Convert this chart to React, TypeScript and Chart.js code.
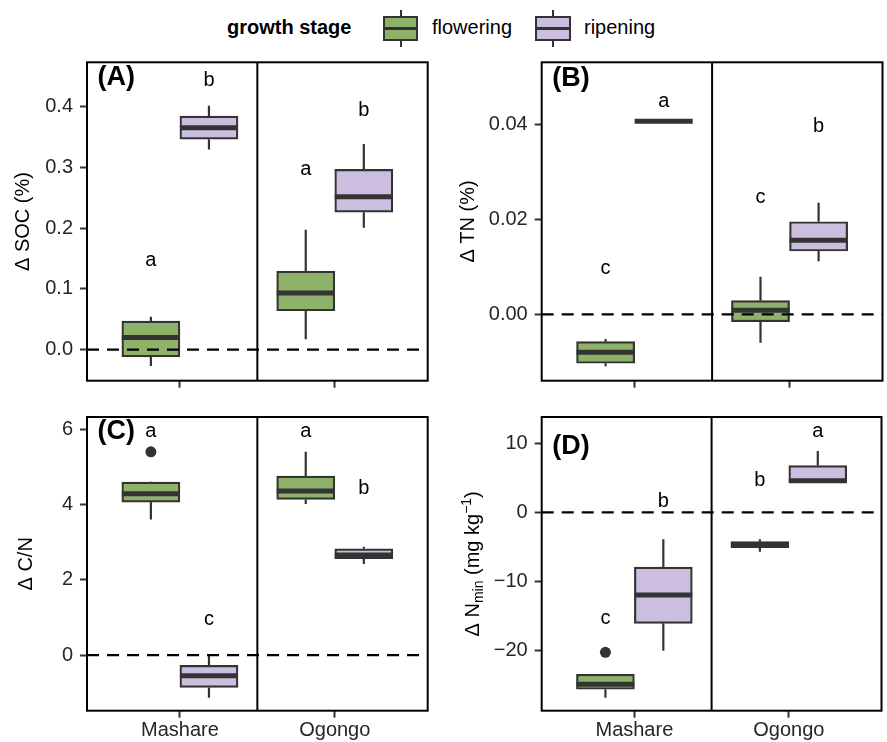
import React, { useEffect, useRef } from 'react';
import { Chart, registerables } from 'chart.js';

Chart.register(...registerables);

const FONT = "'Liberation Sans', Arial, Helvetica, sans-serif";
const INK = '#333333';
const TICK_TEXT = '#262626';

// ---------- categories ----------
const sites = ['Mashare', 'Ogongo'];
const siteValues = [1, 2];
const stages = ['flowering', 'ripening'];
const stageFill = ['#8fb26b', '#ccbedf'];
const legendTitle = 'growth stage';

// ---------- box statistics per site: [lower whisker, Q1, median, Q3, upper whisker] ----------
// (A) Δ SOC (%)
const socFlowering = [[-0.027, -0.012, 0.020, 0.047, 0.054], [0.017, 0.064, 0.093, 0.129, 0.197]];
const socRipening = [[0.329, 0.346, 0.365, 0.384, 0.401], [0.2005, 0.226, 0.2515, 0.2965, 0.338]];
const socLettersFlowering = ['a', 'a'];
const socLettersRipening = ['b', 'b'];
const socLetterYFlowering = [0.147, 0.2965];
const socLetterYRipening = [0.446, 0.397];
const socTicks = [0, 0.1, 0.2, 0.3, 0.4];
const socRange = [-0.051, 0.4725];
const socTagY = 0.446;

// (B) Δ TN (%)
const tnFlowering = [[-0.0109, -0.0103, -0.0080, -0.00575, -0.0052], [-0.006, -0.00155, 0.00084, 0.00286, 0.0079]];
const tnRipening = [[0.04056, 0.04056, 0.04056, 0.04056, 0.04056], [0.01114, 0.0133, 0.01555, 0.01946, 0.02346]];
const tnLettersFlowering = ['c', 'c'];
const tnLettersRipening = ['a', 'b'];
const tnLetterYFlowering = [0.00967, 0.0246];
const tnLetterYRipening = [0.0447, 0.0398];
const tnTicks = [0, 0.02, 0.04];
const tnRange = [-0.01396, 0.05297];
const tnTagY = 0.0494;

// (C) Δ C/N
const cnFlowering = [[3.606, 4.067, 4.288, 4.60, 4.61], [4.014, 4.137, 4.359, 4.758, 5.404]];
const cnRipening = [[-1.134, -0.86, -0.549, -0.275, 0.0], [2.419, 2.56, 2.658, 2.826, 2.879]];
const cnOutliersFlowering = [[5.404], []];
const cnOutliersRipening: number[][] = [[], []];
const cnLettersFlowering = ['a', 'a'];
const cnLettersRipening = ['c', 'b'];
const cnLetterYFlowering = [5.936, 5.936];
const cnLetterYRipening = [0.948, 4.474];
const cnTicks = [0, 2, 4, 6];
const cnRange = [-1.48, 6.33];
const cnTagY = 5.93;

// (D) Δ Nmin (mg kg-1)
const nminFlowering = [[-26.83, -25.61, -24.88, -23.44, -23.44], [-5.7, -5.12, -4.68, -4.25, -3.91]];
const nminRipening = [[-20.03, -16.07, -11.97, -7.92, -3.91], [4.34, 4.34, 4.58, 6.75, 8.87]];
const nminOutliersFlowering = [[-20.26], []];
const nminOutliersRipening: number[][] = [[], []];
const nminLettersFlowering = ['c', 'b'];
const nminLettersRipening = ['b', 'a'];
const nminLetterYFlowering = [-15.34, 4.82];
const nminLetterYRipening = [1.78, 11.66];
const nminTicks = [-20, -10, 0, 10];
const nminRange = [-28.71, 13.79];
const nminTagY = 9.38;

const noOutliers: number[][] = [[], []];

type TitlePart = { text: string; kind?: 'sub' | 'sup' };
interface Frame {
  left: number; top: number; width: number; height: number;
  padTop: number; padRight: number; yWidth: number; xHeight: number; titleX: number;
}
interface Panel {
  key: string; tag: string; tagY: number; title: TitlePart[];
  range: number[]; ticks: number[]; digits: number;
  stats: number[][][]; letters: string[][]; letterY: number[][]; outliers: number[][][];
  showX: boolean; frame: Frame;
}

const panels: Panel[] = [
  {
    key: 'A', tag: '(A)', tagY: socTagY, title: [{ text: 'Δ SOC (%)' }],
    range: socRange, ticks: socTicks, digits: 1,
    stats: [socFlowering, socRipening], letters: [socLettersFlowering, socLettersRipening],
    letterY: [socLetterYFlowering, socLetterYRipening], outliers: [noOutliers, noOutliers],
    showX: false,
    frame: { left: 0, top: 48, width: 440, height: 347, padTop: 14.3, padRight: 12.3, yWidth: 87, xHeight: 14.3, titleX: 28.8 },
  },
  {
    key: 'B', tag: '(B)', tagY: tnTagY, title: [{ text: 'Δ TN (%)' }],
    range: tnRange, ticks: tnTicks, digits: 2,
    stats: [tnFlowering, tnRipening], letters: [tnLettersFlowering, tnLettersRipening],
    letterY: [tnLetterYFlowering, tnLetterYRipening], outliers: [noOutliers, noOutliers],
    showX: false,
    frame: { left: 440, top: 48, width: 447, height: 347, padTop: 14.3, padRight: 4.5, yWidth: 101.7, xHeight: 14.3, titleX: 33.6 },
  },
  {
    key: 'C', tag: '(C)', tagY: cnTagY, title: [{ text: 'Δ C/N' }],
    range: cnRange, ticks: cnTicks, digits: 0,
    stats: [cnFlowering, cnRipening], letters: [cnLettersFlowering, cnLettersRipening],
    letterY: [cnLetterYFlowering, cnLetterYRipening], outliers: [cnOutliersFlowering, cnOutliersRipening],
    showX: true,
    frame: { left: 0, top: 395, width: 440, height: 347, padTop: 22, padRight: 12.3, yWidth: 87, xHeight: 31.3, titleX: 31.8 },
  },
  {
    key: 'D', tag: '(D)', tagY: nminTagY,
    title: [{ text: 'Δ N' }, { text: 'min', kind: 'sub' }, { text: ' (mg kg' }, { text: '−1', kind: 'sup' }, { text: ')' }],
    range: nminRange, ticks: nminTicks, digits: 0,
    stats: [nminFlowering, nminRipening], letters: [nminLettersFlowering, nminLettersRipening],
    letterY: [nminLetterYFlowering, nminLetterYRipening], outliers: [nminOutliersFlowering, nminOutliersRipening],
    showX: true,
    frame: { left: 440, top: 395, width: 447, height: 347, padTop: 22, padRight: 4.5, yWidth: 101.7, xHeight: 31.3, titleX: 39.3 },
  },
];

const DODGE = 0.1875;
const stageOffset = [-DODGE, DODGE];

function fmt(v: number, digits: number) {
  const s = Math.abs(v).toFixed(digits);
  return (v < -1e-12 ? '\u2212' : '') + s;
}

function fillInkCentered(ctx: CanvasRenderingContext2D, text: string, x: number, y: number) {
  const m = ctx.measureText(text);
  ctx.textBaseline = 'alphabetic';
  ctx.fillText(text, x, y + (m.actualBoundingBoxAscent - m.actualBoundingBoxDescent) / 2);
}

function makePlugin(p: Panel) {
  return {
    id: 'boxDecor' + p.key,
    beforeDatasetsDraw(chart: any) {
      const { ctx, scales } = chart;
      const y = scales.y;
      ctx.save();
      ctx.strokeStyle = INK;
      ctx.lineWidth = 2.2;
      p.stats.forEach((stageStats, si) => {
        const meta = chart.getDatasetMeta(si);
        stageStats.forEach((b, i) => {
          const el = meta.data[i];
          if (!el) return;
          const cx = el.x;
          ctx.beginPath();
          ctx.moveTo(cx, y.getPixelForValue(b[3]));
          ctx.lineTo(cx, y.getPixelForValue(b[4]));
          ctx.moveTo(cx, y.getPixelForValue(b[1]));
          ctx.lineTo(cx, y.getPixelForValue(b[0]));
          ctx.stroke();
        });
      });
      ctx.restore();
    },
    afterDatasetsDraw(chart: any) {
      const { ctx, chartArea, scales } = chart;
      const x = scales.x;
      const y = scales.y;
      ctx.save();
      // medians
      ctx.strokeStyle = INK;
      ctx.lineWidth = 5;
      ctx.lineCap = 'butt';
      p.stats.forEach((stageStats, si) => {
        const meta = chart.getDatasetMeta(si);
        stageStats.forEach((b, i) => {
          const el = meta.data[i];
          if (!el) return;
          const w = el.width;
          const my = y.getPixelForValue(b[2]);
          ctx.beginPath();
          ctx.moveTo(el.x - w / 2, my);
          ctx.lineTo(el.x + w / 2, my);
          ctx.stroke();
        });
      });
      // dashed zero line
      const y0 = y.getPixelForValue(0);
      ctx.strokeStyle = '#000';
      ctx.lineWidth = 2.2;
      ctx.setLineDash([12, 8]);
      ctx.beginPath();
      ctx.moveTo(chartArea.left, y0);
      ctx.lineTo(chartArea.right, y0);
      ctx.stroke();
      ctx.setLineDash([]);
      // facet divider
      const xd = x.getPixelForValue((siteValues[0] + siteValues[1]) / 2);
      ctx.lineWidth = 2;
      ctx.beginPath();
      ctx.moveTo(xd, chartArea.top);
      ctx.lineTo(xd, chartArea.bottom);
      ctx.stroke();
      // frame
      ctx.strokeRect(chartArea.left, chartArea.top, chartArea.right - chartArea.left, chartArea.bottom - chartArea.top);
      // letters
      ctx.fillStyle = '#000';
      ctx.font = `20px ${FONT}`;
      ctx.textAlign = 'center';
      p.letters.forEach((stageLetters, si) => {
        stageLetters.forEach((t, i) => {
          const px = x.getPixelForValue(siteValues[i] + stageOffset[si]);
          const py = y.getPixelForValue(p.letterY[si][i]);
          fillInkCentered(ctx, t, px, py);
        });
      });
      // panel tag
      ctx.font = `bold 27px ${FONT}`;
      ctx.textAlign = 'left';
      fillInkCentered(ctx, p.tag, chartArea.left + 10.5, y.getPixelForValue(p.tagY));
      // y title
      ctx.translate(p.frame.titleX, (chartArea.top + chartArea.bottom) / 2);
      ctx.rotate(-Math.PI / 2);
      ctx.textBaseline = 'alphabetic';
      ctx.textAlign = 'left';
      const fonts = p.title.map((t) => (t.kind ? `14px ${FONT}` : `20px ${FONT}`));
      const widths = p.title.map((t, i) => {
        ctx.font = fonts[i];
        return ctx.measureText(t.text).width;
      });
      const total = widths.reduce((a, b) => a + b, 0);
      let cx = -total / 2;
      p.title.forEach((t, i) => {
        ctx.font = fonts[i];
        const dy = t.kind === 'sub' ? 4 : t.kind === 'sup' ? -8 : 0;
        ctx.fillText(t.text, cx, dy);
        cx += widths[i];
      });
      ctx.restore();
    },
  };
}

function makeChart(canvas: HTMLCanvasElement, p: Panel) {
  const f = p.frame;
  const boxDatasets = stages.map((stage, si) => ({
    type: 'bar' as const,
    label: stage,
    data: sites.map((_, i) => ({ x: siteValues[i] + stageOffset[si], y: [p.stats[si][i][1], p.stats[si][i][3]] })),
    backgroundColor: stageFill[si],
    borderColor: INK,
    borderWidth: 2.2,
    borderSkipped: false,
    grouped: false,
    barPercentage: 1,
    categoryPercentage: 1,
  }));
  const outlierData: { x: number; y: number }[] = [];
  p.outliers.forEach((stageOut, si) =>
    stageOut.forEach((vals, i) => vals.forEach((v) => outlierData.push({ x: siteValues[i] + stageOffset[si], y: v })))
  );
  const gridOpts = {
    display: true,
    drawOnChartArea: false,
    drawTicks: true,
    tickLength: 7,
    tickWidth: 2,
    tickColor: INK,
    offset: false,
  };
  return new Chart(canvas, {
    type: 'bar',
    data: {
      datasets: [
        ...boxDatasets,
        {
          type: 'scatter' as const,
          label: 'outliers',
          data: outlierData,
          pointRadius: 5.5,
          pointBackgroundColor: INK,
          pointBorderWidth: 0,
        } as any,
      ],
    },
    options: {
      animation: false,
      responsive: false,
      maintainAspectRatio: false,
      layout: { padding: { left: 0, top: f.padTop, right: f.padRight, bottom: 0 } },
      plugins: { legend: { display: false }, tooltip: { enabled: false }, title: { display: false } },
      scales: {
        x: {
          type: 'linear',
          min: 0.4,
          max: 2.6,
          offset: false,
          grid: gridOpts,
          border: { display: false },
          afterBuildTicks: (s: any) => {
            s.ticks = siteValues.map((v) => ({ value: v }));
          },
          afterFit: (s: any) => {
            s.height = f.xHeight;
            s.paddingLeft = 0;
            s.paddingRight = 0;
          },
          ticks: {
            autoSkip: false,
            maxRotation: 0,
            minRotation: 0,
            padding: 1,
            color: TICK_TEXT,
            font: { family: FONT, size: 20 },
            callback: (v: any) => {
              if (!p.showX) return '';
              const idx = siteValues.indexOf(Number(v));
              return idx >= 0 ? sites[idx] : '';
            },
          },
        },
        y: {
          type: 'linear',
          min: p.range[0],
          max: p.range[1],
          grid: gridOpts,
          border: { display: false },
          afterBuildTicks: (s: any) => {
            s.ticks = p.ticks.map((v) => ({ value: v }));
          },
          afterFit: (s: any) => {
            s.width = f.yWidth;
            s.paddingTop = 0;
            s.paddingBottom = 0;
          },
          ticks: {
            padding: 7,
            color: TICK_TEXT,
            font: { family: FONT, size: 20 },
            callback: (v: any) => fmt(Number(v), p.digits),
          },
        },
      },
    } as any,
    plugins: [makePlugin(p)],
  });
}

const keyLeft = [382.7, 535.2];
const keyTextLeft = [432, 584];

function LegendKey({ left, fill }: { left: number; fill: string }) {
  return (
    <>
      <div style={{ position: 'absolute', left: left + 16.8, top: 10, width: 2, height: 36.7, background: INK }} />
      <div
        style={{
          position: 'absolute', left, top: 16, width: 35.6, height: 24.7, background: fill,
          border: `2.2px solid ${INK}`, boxSizing: 'border-box',
        }}
      />
      <div style={{ position: 'absolute', left, top: 27, width: 35.6, height: 3, background: INK }} />
    </>
  );
}

function Legend() {
  return (
    <div style={{ position: 'absolute', left: 0, top: 0, width: 887, height: 50, fontFamily: FONT, color: '#000' }}>
      <div style={{ position: 'absolute', left: 227, top: 17, fontSize: 20, lineHeight: '20px', fontWeight: 'bold', whiteSpace: 'nowrap' }}>
        {legendTitle}
      </div>
      {stages.map((s, i) => (
        <React.Fragment key={s}>
          <LegendKey left={keyLeft[i]} fill={stageFill[i]} />
          <div style={{ position: 'absolute', left: keyTextLeft[i], top: 17, fontSize: 20, lineHeight: '20px', whiteSpace: 'nowrap' }}>
            {s}
          </div>
        </React.Fragment>
      ))}
    </div>
  );
}

export default function App() {
  const refs = useRef<(HTMLCanvasElement | null)[]>([]);
  useEffect(() => {
    const charts = panels.map((p, i) => makeChart(refs.current[i] as HTMLCanvasElement, p));
    return () => charts.forEach((c) => c.destroy());
  }, []);
  return (
    <div style={{ position: 'absolute', left: 0, top: 0, width: 887, height: 742, background: '#fff', overflow: 'hidden' }}>
      <Legend />
      {panels.map((p, i) => (
        <canvas
          key={p.key}
          ref={(el) => {
            refs.current[i] = el;
          }}
          width={p.frame.width}
          height={p.frame.height}
          style={{ position: 'absolute', left: p.frame.left, top: p.frame.top, width: p.frame.width, height: p.frame.height }}
        />
      ))}
    </div>
  );
}
